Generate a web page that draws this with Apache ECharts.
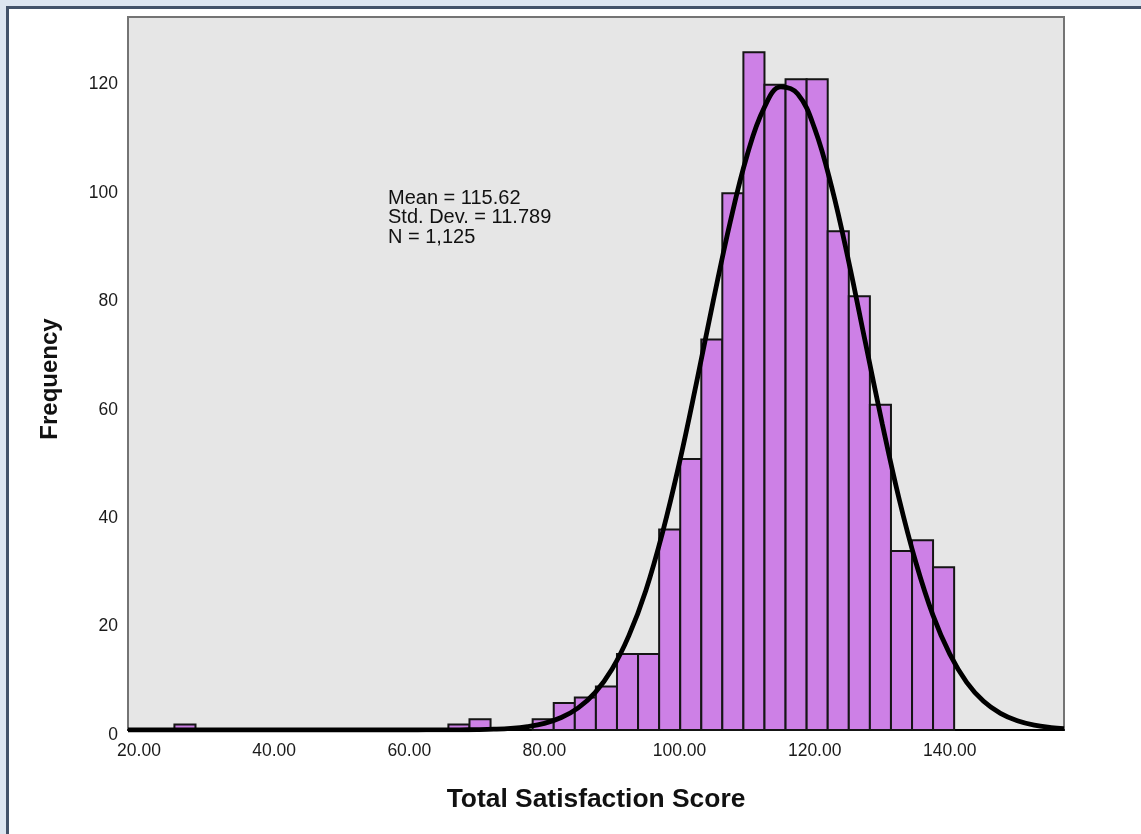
<!DOCTYPE html>
<html>
<head>
<meta charset="utf-8">
<script src="https://cdn.jsdelivr.net/npm/echarts@6/dist/echarts.min.js"></script>
<style>
  html, body { margin:0; padding:0; width:1141px; height:834px; overflow:hidden; background:#dde5f0; }
  #panel { position:absolute; left:6px; top:6px; width:1200px; height:900px; background:#ffffff;
           border-left:3.5px solid #435269; border-top:3.5px solid #435269; }
  #chart { position:absolute; left:0; top:0; width:1141px; height:834px; }
</style>
</head>
<body>
<div id="panel"></div>
<div id="chart"></div>
<script>
// ---- data ----
const binEdges = [25.24, 28.36, 31.48, 34.60, 37.72, 40.84, 43.95, 47.07, 50.19, 53.31,
  56.43, 59.55, 62.67, 65.79, 68.91, 72.03, 75.14, 78.26, 81.38, 84.50,
  87.62, 90.74, 93.86, 96.98, 100.10, 103.22, 106.33, 109.45, 112.57, 115.69,
  118.81, 121.93, 125.05, 128.17, 131.29, 134.41, 137.52, 140.64];
const counts = [1, 0, 0, 0, 0, 0, 0, 0, 0, 0,
  0, 0, 0, 1, 2, 0, 0, 2, 5, 6,
  8, 14, 14, 37, 50, 72, 99, 125, 119, 120,
  120, 92, 80, 60, 33, 35, 30];
const curveX = [18.37, 30, 40, 50, 60, 62.5, 65, 67.5, 70, 72.5, 75, 77.5, 80, 82.5, 85, 87.5, 90, 92.5, 95, 97.5,
  100, 102.5, 105, 107.5, 110, 112.5, 115, 117.5, 120, 122.5, 125, 127.5, 130, 132.5, 135, 137.5,
  140, 142.5, 145, 147.5, 150, 152.5, 155, 156.9];
const curveY = [0, 0, 0, 0, 0, 0.005, 0.012, 0.03, 0.07, 0.15, 0.31, 0.64, 1.23, 2.3, 4.08, 6.9, 11.2, 17.4, 25.7, 36.5,
  49.4, 64.0, 79.2, 93.7, 106.0, 114.7, 118.6, 117.3, 110.9, 100.2, 86.6, 71.5, 56.5, 42.6, 30.8, 21.2,
  14.0, 8.8, 5.3, 3.07, 1.7, 0.89, 0.45, 0.25];
const xTicks = [20, 40, 60, 80, 100, 120, 140];
const yTicks = [0, 20, 40, 60, 80, 100, 120];
const statsLines = ['Mean = 115.62', 'Std. Dev. = 11.789', 'N = 1,125'];
const xTitle = 'Total Satisfaction Score';
const yTitle = 'Frequency';

// ---- build series data ----
const histData = counts.map((c, i) => [binEdges[i], binEdges[i + 1], c]);
const curveData = curveX.map((x, i) => [x, curveY[i]]);

const FONT = '"Liberation Sans", Arial, sans-serif';
const chart = echarts.init(document.getElementById('chart'), null, { renderer: 'canvas' });

chart.setOption({
  backgroundColor: 'transparent',
  animation: false,
  grid: {
    left: 128, top: 17, right: 77, bottom: 104,
    show: true, backgroundColor: '#e6e6e6', borderColor: '#747474', borderWidth: 2
  },
  xAxis: {
    type: 'value', min: 18.37, max: 156.9,
    name: xTitle, nameLocation: 'middle', nameGap: 57,
    nameTextStyle: { fontFamily: FONT, fontSize: 26.4, fontWeight: 'bold', color: '#111' },
    axisLine: { show: true, onZero: false, lineStyle: { color: '#000', width: 2 } },
    axisTick: { show: false },
    splitLine: { show: false },
    axisLabel: {
      customValues: xTicks, margin: 12,
      fontFamily: FONT, fontSize: 17.5, color: '#1a1a1a',
      formatter: v => v.toFixed(2)
    }
  },
  yAxis: {
    type: 'value', min: 0, max: 131.5,
    name: yTitle, nameLocation: 'middle', nameGap: 66,
    nameTextStyle: { fontFamily: FONT, fontSize: 24, fontWeight: 'bold', color: '#111', padding: [0, 11, 0, 0] },
    axisLine: { show: false },
    axisTick: { show: false },
    splitLine: { show: false },
    axisLabel: {
      customValues: yTicks, margin: 10,
      fontFamily: FONT, fontSize: 17.5, color: '#1a1a1a',
      formatter: v => '{a|' + v + '}',
      rich: { a: { fontFamily: FONT, fontSize: 17.5, color: '#1a1a1a', padding: [10, 0, 0, 0] } }
    }
  },
  graphic: [{
    type: 'text', left: 388, top: 188, z: 100,
    style: {
      text: statsLines.join('\n'),
      font: '20px ' + FONT, fill: '#111', lineHeight: 19.5
    }
  }],
  series: [{
    type: 'custom',
    data: histData,
    z: 2,
    renderItem: function (params, api) {
      const x0 = api.value(0), x1 = api.value(1), c = api.value(2);
      if (!c) return null;
      const p0 = api.coord([x0, c]);
      const p1 = api.coord([x1, 0]);
      return {
        type: 'rect',
        shape: { x: p0[0], y: p0[1], width: p1[0] - p0[0], height: p1[1] - p0[1] },
        style: { fill: '#cd80e6', stroke: '#151515', lineWidth: 2 }
      };
    }
  }, {
    type: 'line',
    data: curveData,
    z: 5,
    showSymbol: false,
    smooth: 0.4,
    lineStyle: { color: '#000', width: 4.8 }
  }]
});
</script>
</body>
</html>
